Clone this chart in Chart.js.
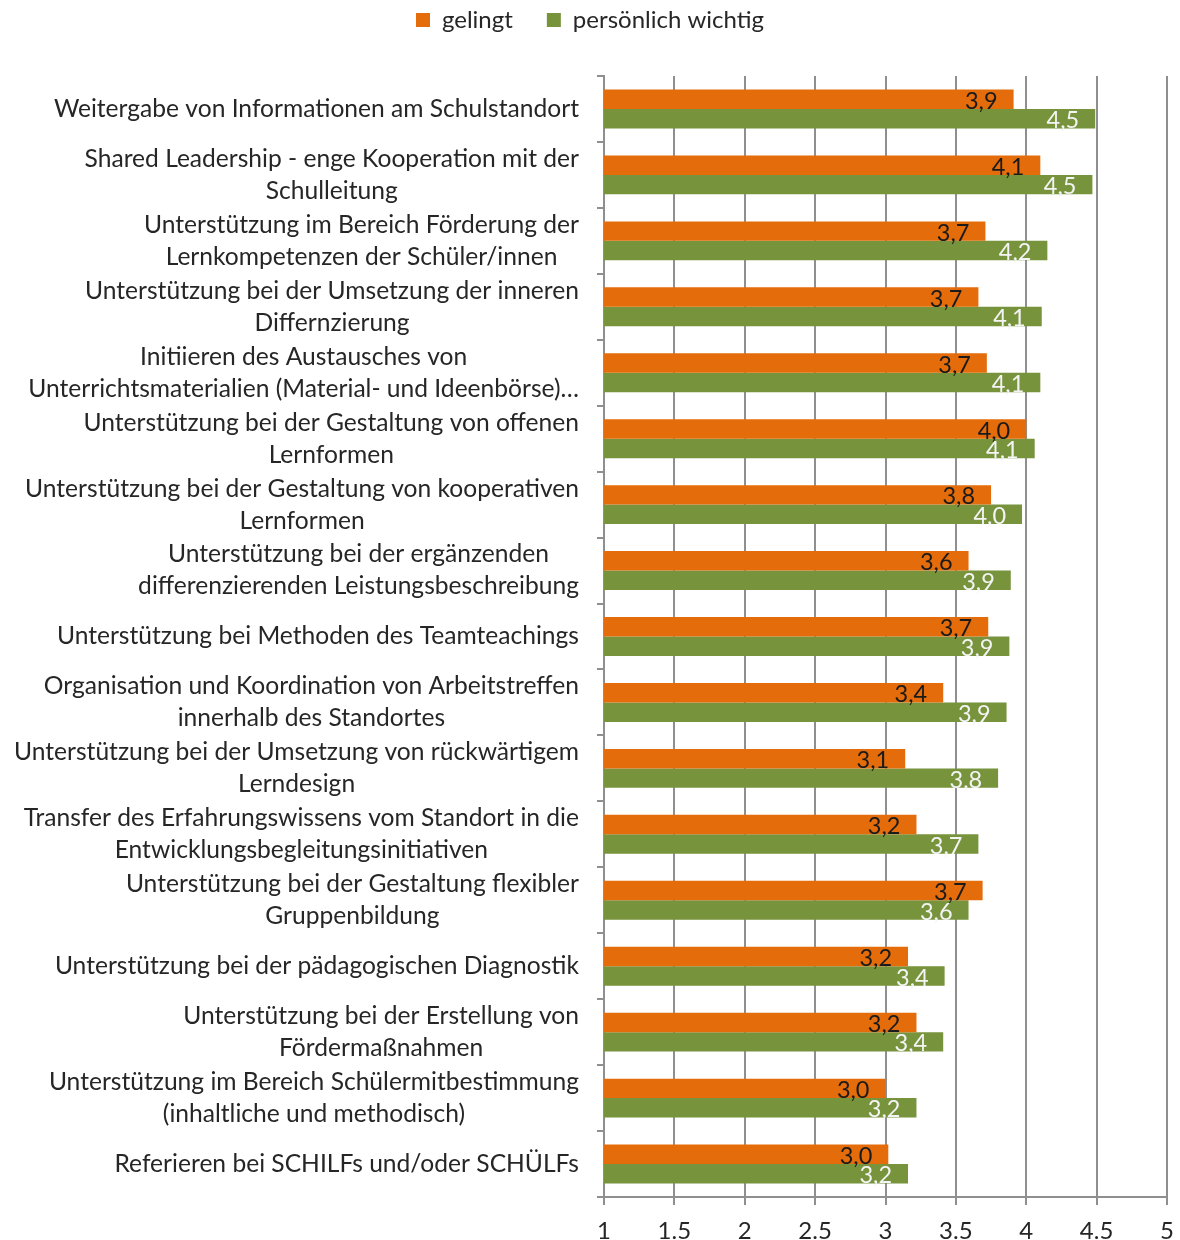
<!DOCTYPE html>
<html>
<head>
<meta charset="utf-8">
<script src="https://cdn.jsdelivr.net/npm/chart.js@4.4.1/dist/chart.umd.min.js"></script>
<style>
  body { margin: 0; background: #fff; }
  #wrap { width: 1180px; height: 1240px; position: relative; }
</style>
</head>
<body>
<div id="wrap"><canvas id="barChart"></canvas></div>
<script>
// categories (multi-line labels)
const categories = [
    ['Weitergabe von Informationen am Schulstandort'],
    ['Shared Leadership - enge Kooperation mit der', 'Schulleitung'],
    ['Unterstützung im Bereich Förderung der', 'Lernkompetenzen der Schüler/innen'],
    ['Unterstützung bei der Umsetzung der inneren', 'Differnzierung'],
    ['Initiieren des Austausches von', 'Unterrichtsmaterialien (Material- und Ideenbörse)…'],
    ['Unterstützung bei der Gestaltung von offenen', 'Lernformen'],
    ['Unterstützung bei der Gestaltung von kooperativen', 'Lernformen'],
    ['Unterstützung bei der ergänzenden', 'differenzierenden Leistungsbeschreibung'],
    ['Unterstützung bei Methoden des Teamteachings'],
    ['Organisation und Koordination von Arbeitstreffen', 'innerhalb des Standortes'],
    ['Unterstützung bei der Umsetzung von rückwärtigem', 'Lerndesign'],
    ['Transfer des Erfahrungswissens vom Standort in die', 'Entwicklungsbegleitungsinitiativen'],
    ['Unterstützung bei der Gestaltung flexibler', 'Gruppenbildung'],
    ['Unterstützung bei der pädagogischen Diagnostik'],
    ['Unterstützung bei der Erstellung von', 'Fördermaßnahmen'],
    ['Unterstützung im Bereich Schülermitbestimmung', '(inhaltliche und methodisch)'],
    ['Referieren bei SCHILFs und/oder SCHÜLFs']
];

// series values
const gelingt = [3.91, 4.10, 3.71, 3.66, 3.72, 4.00, 3.75, 3.59, 3.73, 3.41, 3.14, 3.22, 3.69, 3.16, 3.22, 3.00, 3.02];
const wichtig = [4.49, 4.47, 4.15, 4.11, 4.10, 4.06, 3.97, 3.89, 3.88, 3.86, 3.80, 3.66, 3.59, 3.42, 3.41, 3.22, 3.16];

const FONT = 'Lato';
const gridColor = '#8f8f8f';

// extra space under the legend
const legendSpace = {
    id: 'legendSpace',
    beforeInit(chart) {
        const fit = chart.legend.fit;
        chart.legend.fit = function () {
            fit.bind(chart.legend)();
            this.height += 34;
        };
    }
};

// y labels: block right aligned, lines centred in the block
const yLabels = {
    id: 'yLabels',
    afterDraw(chart) {
        const ctx = chart.ctx;
        const y = chart.scales.y;
        const right = chart.chartArea.left - 25;
        const lh = 32;
        ctx.save();
        ctx.font = '24.6px ' + FONT;
        ctx.fillStyle = '#262626';
        ctx.textAlign = 'center';
        ctx.textBaseline = 'middle';
        categories.forEach((lines, i) => {
            const w = Math.max(...lines.map(l => ctx.measureText(l).width));
            const cx = right - w / 2;
            const cy = y.getPixelForTick(i);
            lines.forEach((l, k) => {
                ctx.fillText(l, cx, cy + (k - (lines.length - 1) / 2) * lh);
            });
        });
        ctx.restore();
    }
};

// value labels inside the bar end
const valueLabels = {
    id: 'valueLabels',
    afterDatasetsDraw(chart) {
        const ctx = chart.ctx;
        ctx.save();
        ctx.font = '23.5px ' + FONT;
        ctx.textAlign = 'right';
        ctx.textBaseline = 'middle';
        chart.data.datasets.forEach((ds, di) => {
            ctx.fillStyle = di === 0 ? '#1a1a1a' : '#f4f4f4';
            chart.getDatasetMeta(di).data.forEach((bar, i) => {
                const txt = ds.data[i].toFixed(1).replace('.', ',');
                ctx.fillText(txt, bar.x - 16, bar.y + 2);
            });
        });
        ctx.restore();
    }
};

new Chart(document.getElementById('barChart'), {
    type: 'bar',
    data: {
        labels: categories,
        datasets: [{
            label: 'gelingt',
            data: gelingt,
            backgroundColor: '#E46C0A'
        }, {
            label: 'persönlich wichtig',
            data: wichtig,
            backgroundColor: '#77933C'
        }]
    },
    options: {
        indexAxis: 'y',
        responsive: true,
        maintainAspectRatio: false,
        animation: false,
        barPercentage: 1,
        categoryPercentage: 0.59,
        layout: { padding: { top: -26, right: 0, bottom: 0, left: 0 } },
        scales: {
            x: {
                min: 1,
                max: 5,
                afterFit(scale) {
                    scale.height = 43;
                    scale.paddingRight = 13;
                },
                ticks: {
                    stepSize: 0.5,
                    callback: v => String(v),
                    color: '#262626',
                    font: { family: FONT, size: 24 },
                    padding: 12
                },
                grid: { color: gridColor, lineWidth: 2, tickLength: 8 },
                border: { color: gridColor, width: 2 }
            },
            y: {
                ticks: { callback: () => '' },
                afterFit(scale) { scale.width = 604; },
                grid: { drawOnChartArea: false, color: gridColor, lineWidth: 2, tickLength: 7 },
                border: { color: gridColor, width: 2 }
            }
        },
        plugins: {
            legend: {
                position: 'top',
                labels: {
                    boxWidth: 14,
                    boxHeight: 14,
                    padding: 34,
                    color: '#262626',
                    font: { family: FONT, size: 24 }
                }
            },
            tooltip: { enabled: false }
        }
    },
    plugins: [legendSpace, yLabels, valueLabels]
});
</script>
</body>
</html>
